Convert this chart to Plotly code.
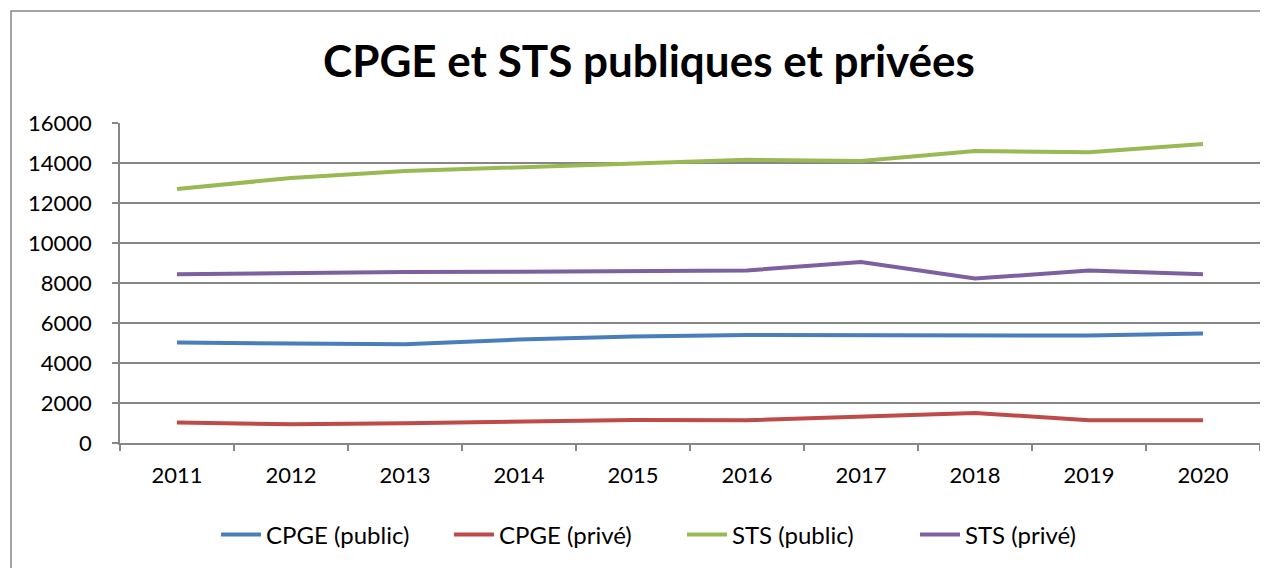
import plotly.graph_objects as go

years = ["2011", "2012", "2013", "2014", "2015", "2016", "2017", "2018", "2019", "2020"]
cpge_public = [5020, 4985, 4940, 5170, 5330, 5400, 5385, 5370, 5370, 5470]
cpge_prive = [1020, 940, 990, 1080, 1150, 1140, 1335, 1500, 1140, 1140]
sts_public = [12700, 13250, 13600, 13800, 14000, 14160, 14100, 14600, 14540, 14950]
sts_prive = [8440, 8500, 8550, 8560, 8600, 8630, 9050, 8220, 8630, 8440]
y_ticks = [0, 2000, 4000, 6000, 8000, 10000, 12000, 14000, 16000]
y_labels = [str(v) for v in y_ticks]

series = [
    ("CPGE (public)", cpge_public, "#4a7ebb"),
    ("CPGE (privé)", cpge_prive, "#be4b48"),
    ("STS (public)", sts_public, "#98b954"),
    ("STS (privé)", sts_prive, "#7d60a0"),
]

FONT = "Lato"
fig = go.Figure()
for name, vals, color in series:
    fig.add_trace(go.Scatter(x=years, y=vals, name=name, mode="lines",
                             line=dict(color=color, width=4)))

OFF = 8  # page body offset
W, H = 1268 - OFF, 568 - OFF
L, T = 120 - OFF, 123 - OFF
R = W - (1260 - OFF)
B = H - (443 - OFF)
pw, ph = W - L - R, H - T - B

def cy(py):  # page pixel y -> container fraction
    return 1 - (py - OFF) / H

def cx(px):
    return (px - OFF) / W

fig.update_layout(
    width=W, height=H,
    margin=dict(l=L, r=R, t=T, b=B),
    paper_bgcolor="white", plot_bgcolor="white",
    font=dict(family=FONT, size=22, color="#000000"),
    title=dict(text="<b>CPGE et STS publiques et privées</b>", x=cx(649), xref="container",
               xanchor="center", y=cy(62), yref="container", yanchor="middle",
               font=dict(family=FONT, size=44, color="#000000")),
    showlegend=True,
    legend=dict(orientation="h", x=cx(216), xref="container", xanchor="left",
                y=cy(535), yref="container", yanchor="middle",
                font=dict(family=FONT, size=24), itemwidth=40, traceorder="normal",
                entrywidth=178, entrywidthmode="pixels"),
    xaxis=dict(type="category", tickson="boundaries", ticks="outside", ticklen=6,
               tickcolor="#868686", tickwidth=1.5, showline=True, linecolor="#868686",
               linewidth=1.5, showgrid=False, tickfont=dict(size=22), range=[-0.5, 9.5],
               ticklabelstandoff=12),
    yaxis=dict(range=[0, 16000], tickvals=y_ticks, ticktext=y_labels, ticks="outside", ticklen=6,
               tickcolor="#868686", tickwidth=1.5, showline=True, linecolor="#868686",
               linewidth=1.5, gridcolor="#868686", gridwidth=1.5, zeroline=False,
               tickfont=dict(size=22), ticklabelstandoff=16),
    shapes=[dict(type="rect", xref="paper", yref="paper",
                 x0=(11 - OFF - L) / pw, x1=(W + 5 - L) / pw,
                 y0=-(B + 5) / ph, y1=1 + (T - (11 - OFF)) / ph,
                 line=dict(color="#868686", width=1.5), fillcolor="rgba(0,0,0,0)")],
)

fig.write_html("out.html")
